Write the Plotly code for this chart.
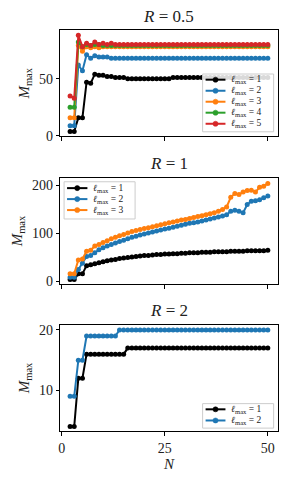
import plotly.graph_objects as go

N = list(range(2, 51))

# R = 0.5
r05_l1 = [4, 4, 16, 16, 47, 46, 54, 53, 53, 52, 52, 51, 51, 51, 50, 50, 50, 50, 50, 50, 50, 50, 50, 50, 50,
          51, 51, 51, 51, 51, 51, 51, 51, 51, 51, 51, 51, 51, 51, 51, 51, 51, 51, 51, 51, 51, 51, 51, 51]
r05_l2 = [9, 9, 62, 57, 71, 68, 70, 69, 69, 69, 68, 68, 68, 68, 68, 68, 68, 68, 68, 68, 68, 68, 68, 68, 68,
          68, 68, 68, 68, 68, 68, 68, 68, 68, 68, 68, 68, 68, 68, 68, 68, 68, 68, 68, 68, 68, 68, 68, 68]
r05_l3 = [16, 16, 79, 74, 78, 77, 78, 77, 78, 78, 78, 78, 78, 78, 78, 78, 78, 78, 78, 78, 78, 78, 78, 78, 78,
          78, 78, 78, 78, 78, 78, 78, 78, 78, 78, 78, 78, 78, 78, 78, 78, 78, 78, 78, 78, 78, 78, 78, 78]
r05_l4 = [25, 25, 82, 78, 80, 79, 80, 80, 79, 79, 79, 79, 79, 79, 79, 79, 79, 79, 79, 79, 79, 79, 79, 79, 79,
          79, 79, 79, 79, 79, 79, 79, 79, 79, 79, 79, 79, 79, 79, 79, 79, 79, 79, 79, 79, 79, 79, 79, 79]
r05_l5 = [35, 33, 88, 78, 81, 79, 82, 80, 81, 80, 81, 80, 80, 80, 80, 80, 80, 80, 80, 80, 80, 80, 80, 80, 80,
          80, 80, 80, 80, 80, 80, 80, 80, 80, 80, 80, 80, 80, 80, 80, 80, 80, 80, 80, 80, 80, 80, 80, 80]

# R = 1
r1_l1 = [4, 4, 16, 16, 33, 35, 37, 39, 41, 43, 45, 46, 48, 49, 50, 51, 52, 53, 54, 54, 55, 56, 56, 57, 57,
         58, 58, 59, 59, 60, 60, 60, 61, 61, 61, 62, 62, 62, 62, 63, 63, 63, 63, 64, 64, 64, 64, 64, 65]
r1_l2 = [9, 9, 25, 38, 52, 54, 60, 66, 70, 74, 77, 80, 83, 86, 89, 92, 94, 97, 99, 101, 103, 105, 107, 109, 111,
         113, 115, 117, 119, 121, 122, 124, 126, 128, 130, 132, 134, 136, 139, 146, 148, 146, 143, 160, 167, 168, 170, 174, 178]
r1_l3 = [16, 16, 45, 47, 63, 65, 74, 77, 81, 85, 89, 92, 95, 98, 101, 104, 106, 108, 110, 112, 114, 116, 118, 120, 122,
         124, 126, 128, 129, 131, 133, 135, 137, 139, 141, 143, 146, 150, 155, 175, 183, 181, 186, 189, 190, 186, 196, 198, 204]

# R = 2
r2_l1 = [4, 4, 12, 12, 16, 16, 16, 16, 16, 16, 16, 16, 16, 16, 17, 17, 17, 17, 17, 17, 17, 17, 17, 17, 17,
         17, 17, 17, 17, 17, 17, 17, 17, 17, 17, 17, 17, 17, 17, 17, 17, 17, 17, 17, 17, 17, 17, 17, 17]
r2_l2 = [9, 9, 15, 15, 19, 19, 19, 19, 19, 19, 19, 19, 20, 20, 20, 20, 20, 20, 20, 20, 20, 20, 20, 20, 20,
         20, 20, 20, 20, 20, 20, 20, 20, 20, 20, 20, 20, 20, 20, 20, 20, 20, 20, 20, 20, 20, 20, 20, 20]

colors = ["#000000", "#1f77b4", "#ff7f0e", "#2ca02c", "#d62728"]
labels = ["<i>ℓ</i><sub>max</sub> = %d" % k for k in range(1, 6)]
titles = ["<i>R</i> = 0.5", "<i>R</i> = 1", "<i>R</i> = 2"]

FONT = "Liberation Serif"
W, H = 292, 490

fig = go.Figure()

panels = [
    ([r05_l1, r05_l2, r05_l3, r05_l4, r05_l5], "x", "y"),
    ([r1_l1, r1_l2, r1_l3], "x2", "y2"),
    ([r2_l1, r2_l2], "x3", "y3"),
]
for series, xa, ya in panels:
    for i, s in enumerate(series):
        fig.add_trace(go.Scatter(
            x=N, y=s, xaxis=xa, yaxis=ya, name=labels[i], showlegend=False,
            mode="lines+markers",
            line=dict(color=colors[i], width=2),
            marker=dict(color=colors[i], size=5),
        ))

doms = [(0.7204, 0.9408), (0.4116, 0.6341), (0.1055, 0.328)]
xdom = [0.2007, 0.9507]
yranges = [[-0.2, 92.2], [-6, 216], [3.2, 20.9]]
yticks = [[0, 50], [0, 100, 200], [10, 20]]

axis_common = dict(showline=True, linecolor="black", linewidth=1, mirror=True,
                   ticks="outside", ticklen=3.5, tickwidth=1, tickcolor="black",
                   showgrid=False, zeroline=False,
                   tickfont=dict(family=FONT, size=14, color="#222"))

for k in range(3):
    sx = "" if k == 0 else str(k + 1)
    fig.layout["xaxis" + sx] = dict(
        domain=xdom, anchor="y" + sx, range=[-0.4, 52.4],
        tickvals=[0, 25, 50], showticklabels=(k == 2), **axis_common)
    fig.layout["yaxis" + sx] = dict(
        domain=list(doms[k]), anchor="x" + sx, range=yranges[k],
        tickvals=yticks[k],
        title=dict(text="<i>M</i><sub>max</sub>", font=dict(family=FONT, size=15, color="#222"), standoff=5),
        **axis_common)

fig.layout.xaxis3.title = dict(text="<i>N</i>", font=dict(family=FONT, size=15, color="#222"), standoff=3)

annotations = []
shapes = []
for k in range(3):
    annotations.append(dict(text=titles[k], x=(xdom[0] + xdom[1]) / 2, y=doms[k][1] + 0.006,
                            xref="paper", yref="paper", xanchor="center", yanchor="bottom",
                            showarrow=False, font=dict(family=FONT, size=17, color="#222")))


def px(x):
    return x / W


def py(y):
    return 1 - y / H


def add_legend(box, rows, line_x0, line_x1, text_x, n):
    x0, y0, x1, y1 = box
    shapes.append(dict(type="rect", xref="paper", yref="paper",
                       x0=px(x0), x1=px(x1), y0=py(y1), y1=py(y0),
                       line=dict(color="#cccccc", width=1), fillcolor="rgba(255,255,255,0.85)",
                       layer="above"))
    for i in range(n):
        yy = rows[i]
        shapes.append(dict(type="line", xref="paper", yref="paper",
                           x0=px(line_x0), x1=px(line_x1), y0=py(yy), y1=py(yy),
                           line=dict(color=colors[i], width=2), layer="above"))
        cx = (line_x0 + line_x1) / 2
        r = 2.6
        shapes.append(dict(type="circle", xref="paper", yref="paper",
                           x0=px(cx - r), x1=px(cx + r), y0=py(yy + r), y1=py(yy - r),
                           line=dict(color=colors[i], width=0.5), fillcolor=colors[i], layer="above"))
        annotations.append(dict(text=labels[i], x=px(text_x), y=py(yy), xref="paper", yref="paper",
                                xanchor="left", yanchor="middle", showarrow=False,
                                font=dict(family=FONT, size=9.5, color="#222")))


add_legend((202, 73.5, 273.5, 132.5), [79.3, 90.6, 101.8, 113.0, 124.3], 205, 225, 228.5, 5)
add_legend((62.5, 183.5, 134, 221.5), [190, 201.2, 212.4], 65.5, 86, 89.5, 3)
add_legend((202, 410, 273.5, 435), [415.8, 427.2], 205, 225, 228.5, 2)

fig.update_layout(
    width=W, height=H, margin=dict(l=0, r=0, t=0, b=0),
    plot_bgcolor="white", paper_bgcolor="white", showlegend=False,
    annotations=annotations, shapes=shapes,
)

fig.write_html("out.html", config={"displayModeBar": False},
               post_script="document.body.style.margin='0';document.body.style.padding='0';")
